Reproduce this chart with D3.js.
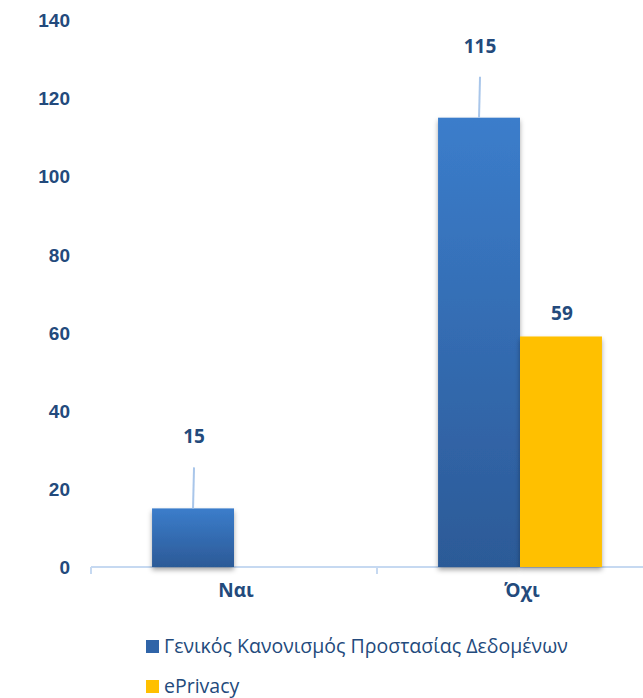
<!DOCTYPE html>
<html>
<head>
<meta charset="utf-8">
<script src="https://cdnjs.cloudflare.com/ajax/libs/d3/7.8.5/d3.min.js"></script>
<style>
  body { margin: 0; background: #fff; }
  svg { display: block; font-family: 'Open Sans', sans-serif; }
  .tick text { font-weight: bold; fill: #234a7c; }
</style>
</head>
<body>
<svg id="chart"></svg>
<script>
'use strict';

var categories = ['Ναι', 'Όχι']
var seriesNames = ['Γενικός Κανονισμός Προστασίας Δεδομένων', 'ePrivacy']
var gdprValues = [15, 115]
var eprivacyValues = [null, 59]
var yTicks = [0, 20, 40, 60, 80, 100, 120, 140]

var width = 643,
  height = 698,
  margin = { left: 91, top: 20, right: -20, bottom: 131 },
  drawWidth = width - margin.left - margin.right,
  drawHeight = height - margin.top - margin.bottom,
  textColor = '#234a7c'

var svg = d3.select('#chart')
  .attr('width', width)
  .attr('height', height)

var defs = svg.append('defs')
var grad = defs.append('linearGradient')
  .attr('id', 'blueGrad')
  .attr('x1', 0).attr('y1', 0).attr('x2', 0).attr('y2', 1)
grad.append('stop').attr('offset', '0%').attr('stop-color', '#3b7dcb')
grad.append('stop').attr('offset', '100%').attr('stop-color', '#2c5a97')

var shadow = defs.append('filter')
  .attr('id', 'shadow')
  .attr('x', '-20%').attr('y', '-20%').attr('width', '140%').attr('height', '140%')
shadow.append('feDropShadow')
  .attr('dx', 0).attr('dy', 3)
  .attr('stdDeviation', 2.5)
  .attr('flood-color', '#000')
  .attr('flood-opacity', 0.35)

var seriesFill = ['url(#blueGrad)', '#ffc000']
var legendFill = ['#2f64a8', '#ffc000']
// labels of the first series sit higher, with a leader line to the bar
var labelLift = [true, false]

var g = svg.append('g')
  .attr('transform', 'translate(' + margin.left + ',' + margin.top + ')')

var xScale = d3.scaleBand()
  .domain(categories)
  .range([0, drawWidth])

var xInner = d3.scaleBand()
  .domain(d3.range(seriesNames.length))
  .range([0, xScale.bandwidth()])
  .paddingOuter(0.745)

var yScale = d3.scaleLinear()
  .domain([0, 140])
  .range([drawHeight, 0])

// y axis, labels only
var yAxisG = g.append('g')
  .call(d3.axisLeft(yScale).tickValues(yTicks).tickSize(0).tickPadding(21))
yAxisG.select('.domain').remove()
yAxisG.selectAll('.tick text')
  .style('font-size', '19px')
  .attr('dy', '0.35em')

// x axis
var xAxisG = g.append('g')
  .attr('transform', 'translate(0,' + drawHeight + ')')
xAxisG.append('line')
  .attr('x1', 0).attr('x2', drawWidth)
  .attr('stroke', '#c6d9f1').attr('stroke-width', 2)
xAxisG.selectAll('line.tk')
  .data(categories)
  .enter().append('line')
  .attr('class', 'tk')
  .attr('x1', function(d) { return xScale(d) })
  .attr('x2', function(d) { return xScale(d) })
  .attr('y1', 0).attr('y2', 7)
  .attr('stroke', '#c6d9f1').attr('stroke-width', 2)
xAxisG.selectAll('text')
  .data(categories)
  .enter().append('text')
  .attr('x', function(d) { return xScale(d) + xScale.bandwidth() / 2 + 2 })
  .attr('y', 30)
  .attr('text-anchor', 'middle')
  .style('font-size', '19px')
  .style('font-weight', 'bold')
  .attr('fill', textColor)
  .text(function(d) { return d })

var rows = []
var seriesValues = [gdprValues, eprivacyValues]
seriesValues.forEach(function(vals, s) {
  vals.forEach(function(v, i) {
    if (v !== null) rows.push({ cat: categories[i], s: s, value: v })
  })
})

function barX(d) { return xScale(d.cat) + xInner(d.s) }

g.selectAll('rect.bar')
  .data(rows)
  .enter().append('rect')
  .attr('class', 'bar')
  .attr('x', barX)
  .attr('width', xInner.bandwidth())
  .attr('y', function(d) { return yScale(d.value) })
  .attr('height', function(d) { return drawHeight - yScale(d.value) })
  .attr('fill', function(d) { return seriesFill[d.s] })
  .attr('filter', 'url(#shadow)')

// leader lines
g.selectAll('line.leader')
  .data(rows.filter(function(d) { return labelLift[d.s] }))
  .enter().append('line')
  .attr('class', 'leader')
  .attr('x1', function(d) { return barX(d) + xInner.bandwidth() / 2 })
  .attr('x2', function(d) { return barX(d) + xInner.bandwidth() / 2 + 1 })
  .attr('y1', function(d) { return yScale(d.value) })
  .attr('y2', function(d) { return yScale(d.value) - 41 })
  .attr('stroke', '#a9c6ea').attr('stroke-width', 2)

g.selectAll('text.val')
  .data(rows)
  .enter().append('text')
  .attr('class', 'val')
  .attr('x', function(d) { return barX(d) + xInner.bandwidth() / 2 + 1 })
  .attr('y', function(d) { return yScale(d.value) - (labelLift[d.s] ? 65 : 16) })
  .attr('text-anchor', 'middle')
  .style('font-size', '19px')
  .style('font-weight', 'bold')
  .attr('fill', textColor)
  .text(function(d) { return d.value })

// legend
var legend = svg.append('g')
  .attr('transform', 'translate(146,640)')
var items = legend.selectAll('g')
  .data(seriesNames)
  .enter().append('g')
  .attr('transform', function(d, i) { return 'translate(0,' + (i * 40) + ')' })
items.append('rect')
  .attr('width', 13).attr('height', 13)
  .attr('fill', function(d, i) { return legendFill[i] })
items.append('text')
  .attr('x', 18).attr('y', 13)
  .style('font-size', '19.5px')
  .attr('fill', textColor)
  .text(function(d) { return d })
</script>
</body>
</html>
